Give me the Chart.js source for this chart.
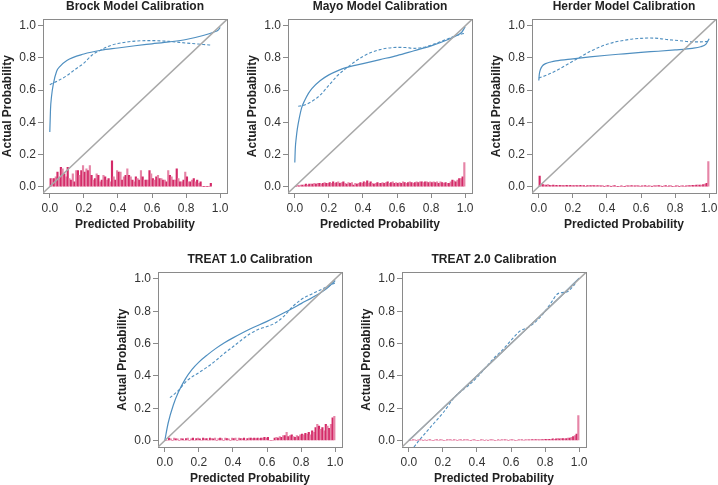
<!DOCTYPE html>
<html>
<head>
<meta charset="utf-8">
<script src="https://cdn.jsdelivr.net/npm/chart.js@4.4.1/dist/chart.umd.min.js"></script>
<style>
  html, body { margin: 0; padding: 0; background: #fff; overflow: hidden; }
  #wrap { position: relative; width: 718px; height: 485px; overflow: hidden; }
  #wrap canvas { position: absolute; }
</style>
</head>
<body>
<div id="wrap"></div>
<script>
// axis ticks shared by every panel
const axisTicks = [0, 0.2, 0.4, 0.6, 0.8, 1.0];
const axisMin = -0.04;
const axisMax = 1.04;
const binWidth = 0.01;

// Brock
const brockSolidX = [0, 0.004, 0.01, 0.02, 0.04, 0.06, 0.1, 0.2, 0.3, 0.4, 0.5, 0.6, 0.7, 0.8, 0.9, 0.96, 0.99, 1.0];
const brockSolidY = [0.34, 0.48, 0.56, 0.634, 0.717, 0.748, 0.785, 0.825, 0.848, 0.862, 0.876, 0.888, 0.9, 0.915, 0.94, 0.96, 0.975, 0.99];
const brockDashX = [0, 0.05, 0.1, 0.15, 0.2, 0.25, 0.3, 0.35, 0.4, 0.5, 0.6, 0.7, 0.8, 0.9, 0.945];
const brockDashY = [0.634, 0.66, 0.69, 0.73, 0.768, 0.82, 0.85, 0.875, 0.89, 0.905, 0.908, 0.903, 0.893, 0.884, 0.88];
const brockHist = [
  0.05, 0.05, 0.05, 0.06, 0.09, 0.05, 0.12, 0.11, 0.08, 0.06,
  0.12, 0.05, 0.04, 0.08, 0.03, 0.10, 0.10, 0.07, 0.10, 0.13,
  0.09, 0.11, 0.10, 0.13, 0.07, 0.04, 0.05, 0.08, 0.07, 0.03,
  0.04, 0.07, 0.06, 0.04, 0.05, 0.03, 0.16, 0.06, 0.04, 0.10,
  0.09, 0.09, 0.04, 0.06, 0.07, 0.11, 0.07, 0.06, 0.04, 0.03,
  0.06, 0.05, 0.04, 0.10, 0.06, 0.04, 0.04, 0.04, 0.10, 0.08,
  0.05, 0.04, 0.06, 0.07, 0.05, 0.05, 0.04, 0.04, 0.03, 0.10,
  0.07, 0.06, 0.04, 0.04, 0.11, 0.05, 0.03, 0.03, 0.04, 0.09,
  0.06, 0.03, 0.03, 0.04, 0.05, 0.03, 0.04, 0.02, 0.03, 0,
  0, 0, 0, 0, 0.02
];

// Mayo
const mayoSolidX = [0, 0.003, 0.008, 0.015, 0.025, 0.04, 0.06, 0.08, 0.1, 0.15, 0.2, 0.25, 0.3, 0.4, 0.5, 0.6, 0.7, 0.8, 0.9, 0.95, 0.98, 1.0];
const mayoSolidY = [0.15, 0.24, 0.3, 0.36, 0.42, 0.49, 0.54, 0.58, 0.61, 0.66, 0.695, 0.72, 0.74, 0.765, 0.79, 0.815, 0.845, 0.875, 0.915, 0.94, 0.96, 0.995];
const mayoDashX = [0.02, 0.05, 0.1, 0.15, 0.2, 0.25, 0.3, 0.35, 0.4, 0.45, 0.5, 0.55, 0.6, 0.65, 0.7, 0.75, 0.8, 0.85, 0.9, 0.95, 1.0];
const mayoDashY = [0.5, 0.505, 0.53, 0.57, 0.63, 0.69, 0.735, 0.775, 0.81, 0.835, 0.852, 0.862, 0.866, 0.865, 0.86, 0.865, 0.88, 0.9, 0.92, 0.94, 0.955];
const mayoHist = [
  0, 0.01, 0.005, 0.01, 0.01, 0.01, 0.015, 0.01, 0.015, 0.015,
  0.015, 0.02, 0.015, 0.02, 0.02, 0.015, 0.02, 0.025, 0.02, 0.02,
  0.025, 0.02, 0.03, 0.02, 0.025, 0.03, 0.02, 0.025, 0.03, 0.02,
  0.015, 0.025, 0.02, 0.025, 0.01, 0.02, 0.015, 0.02, 0.025, 0.02,
  0.03, 0.025, 0.035, 0.02, 0.03, 0.02, 0.015, 0.02, 0.025, 0.02,
  0.02, 0.025, 0.02, 0.025, 0.03, 0.02, 0.025, 0.03, 0.02, 0.025,
  0.02, 0.025, 0.02, 0.03, 0.025, 0.02, 0.025, 0.03, 0.025, 0.02,
  0.025, 0.03, 0.025, 0.03, 0.03, 0.025, 0.03, 0.03, 0.025, 0.03,
  0.025, 0.03, 0.025, 0.03, 0.02, 0.03, 0.025, 0.02, 0.025, 0.02,
  0.02, 0.03, 0.04, 0.035, 0.03, 0.04, 0.05, 0.05, 0.06, 0.15
];

// Herder
const herderSolidX = [0, 0.003, 0.01, 0.02, 0.04, 0.07, 0.1, 0.2, 0.3, 0.4, 0.5, 0.6, 0.7, 0.8, 0.9, 0.95, 0.98, 1.0];
const herderSolidY = [0.66, 0.7, 0.73, 0.75, 0.765, 0.775, 0.782, 0.795, 0.807, 0.817, 0.826, 0.835, 0.842, 0.85, 0.86, 0.87, 0.885, 0.92];
const herderDashX = [0, 0.05, 0.1, 0.15, 0.2, 0.25, 0.3, 0.35, 0.4, 0.45, 0.5, 0.55, 0.6, 0.65, 0.7, 0.75, 0.8, 0.85, 0.9, 0.95, 1.0];
const herderDashY = [0.675, 0.695, 0.72, 0.75, 0.78, 0.81, 0.84, 0.865, 0.885, 0.9, 0.91, 0.918, 0.922, 0.924, 0.922, 0.915, 0.91, 0.905, 0.9, 0.9, 0.905];
const herderHist = [
  0.065, 0.015, 0.012, 0.01, 0.01, 0.012, 0.008, 0.008, 0.01, 0.008,
  0.008, 0.006, 0.008, 0.008, 0.006, 0.008, 0.008, 0.006, 0.008, 0.006,
  0.006, 0.008, 0.006, 0.006, 0.008, 0.006, 0.006, 0, 0.006, 0.006,
  0.006, 0.008, 0.006, 0.005, 0.006, 0.006, 0.005, 0.006, 0, 0.005,
  0.006, 0.005, 0, 0.004, 0.006, 0, 0, 0, 0.005, 0,
  0, 0.006, 0.004, 0.005, 0.006, 0.005, 0.004, 0.006, 0.005, 0,
  0.005, 0.005, 0.006, 0, 0.005, 0.004, 0, 0.006, 0.005, 0.006,
  0.006, 0.005, 0, 0.005, 0.006, 0, 0.005, 0.006, 0, 0,
  0.005, 0.006, 0, 0.004, 0.005, 0, 0.005, 0.006, 0.006, 0.008,
  0.008, 0.008, 0.01, 0.01, 0.01, 0.01, 0.012, 0.015, 0.02, 0.155
];

// TREAT 1.0
const treat1SolidX = [0, 0.02, 0.05, 0.08, 0.12, 0.16, 0.2, 0.25, 0.3, 0.35, 0.4, 0.5, 0.6, 0.7, 0.8, 0.9, 0.95, 1.0];
const treat1SolidY = [0.0, 0.11, 0.22, 0.3, 0.38, 0.44, 0.485, 0.53, 0.57, 0.605, 0.635, 0.69, 0.737, 0.79, 0.847, 0.905, 0.94, 0.99];
const treat1DashX = [0.03, 0.08, 0.13, 0.2, 0.25, 0.3, 0.35, 0.4, 0.45, 0.5, 0.55, 0.6, 0.65, 0.7, 0.75, 0.8, 0.85, 0.9, 0.95, 1.0];
const treat1DashY = [0.265, 0.31, 0.37, 0.42, 0.455, 0.495, 0.54, 0.58, 0.622, 0.66, 0.688, 0.705, 0.728, 0.77, 0.828, 0.872, 0.9, 0.925, 0.95, 0.975];
const treat1Hist = [
  0, 0, 0.015, 0.01, 0, 0.015, 0.01, 0.01, 0, 0.012,
  0.01, 0, 0.012, 0.015, 0, 0.01, 0.015, 0, 0.012, 0.015,
  0.01, 0, 0.015, 0.01, 0.012, 0, 0.015, 0.012, 0.01, 0.015,
  0, 0.012, 0.015, 0.012, 0, 0.015, 0.012, 0.01, 0, 0.015,
  0.012, 0.015, 0, 0.015, 0.012, 0.01, 0.015, 0, 0.012, 0.015,
  0.015, 0.012, 0.015, 0.012, 0.015, 0.012, 0.015, 0.015, 0.02, 0.015,
  0.02, 0, 0, 0, 0.015, 0.02, 0.015, 0.025, 0.02, 0.03,
  0.03, 0.05, 0.025, 0.03, 0.035, 0.025, 0.02, 0.03, 0.025, 0.035,
  0.04, 0.035, 0.045, 0.04, 0.05, 0.035, 0.06, 0.05, 0.08, 0.1,
  0.09, 0.07, 0.08, 0.06, 0.1, 0.09, 0.075, 0.1, 0.14, 0.15
];

// TREAT 2.0
const treat2SolidX = [0, 0.1, 0.3, 0.5, 0.7, 0.9, 1.0];
const treat2SolidY = [0.0, 0.1, 0.3, 0.5, 0.7, 0.9, 1.005];
const treat2DashX = [0.03, 0.06, 0.1, 0.15, 0.2, 0.27, 0.35, 0.4, 0.45, 0.5, 0.55, 0.6, 0.65, 0.7, 0.75, 0.8, 0.84, 0.87, 0.9, 0.93, 0.96, 0.98];
const treat2DashY = [-0.04, 0.0, 0.05, 0.11, 0.17, 0.27, 0.34, 0.39, 0.45, 0.51, 0.56, 0.62, 0.675, 0.7, 0.74, 0.8, 0.86, 0.905, 0.915, 0.92, 0.95, 0.975];
const treat2Hist = [
  0, 0, 0.004, 0.004, 0, 0.004, 0.004, 0.004, 0, 0.004,
  0, 0.004, 0.004, 0, 0, 0.004, 0.004, 0, 0.004, 0.004,
  0, 0, 0.004, 0.004, 0.004, 0, 0.004, 0.004, 0, 0.004,
  0.004, 0, 0.004, 0.004, 0.004, 0, 0, 0.004, 0.004, 0,
  0, 0, 0.004, 0.004, 0, 0.004, 0, 0.004, 0.004, 0.004,
  0, 0, 0.004, 0, 0.004, 0.004, 0.004, 0.005, 0, 0.005,
  0.004, 0.005, 0, 0, 0.004, 0.005, 0.005, 0, 0.005, 0.005,
  0.005, 0.005, 0.006, 0.005, 0.006, 0.006, 0.005, 0.006, 0.006, 0.007,
  0.007, 0.008, 0.007, 0.008, 0.01, 0.008, 0.01, 0.012, 0.01, 0.012,
  0.012, 0.01, 0.012, 0.015, 0.015, 0.02, 0.025, 0.03, 0.04, 0.155
];

const FONT = '"Liberation Sans", Arial, Helvetica, sans-serif';
const BLUE = '#4f8fc0';
const FRAME = '#8a8a8a';

const panels = [
  { title: 'Brock Model Calibration',  left: 0,   top: -1,  h: 233, sx: brockSolidX,  sy: brockSolidY,  dx: brockDashX,  dy: brockDashY,  hist: brockHist },
  { title: 'Mayo Model Calibration',   left: 245, top: -1,  h: 233, sx: mayoSolidX,   sy: mayoSolidY,   dx: mayoDashX,   dy: mayoDashY,   hist: mayoHist },
  { title: 'Herder Model Calibration', left: 489, top: -1,  h: 233, sx: herderSolidX, sy: herderSolidY, dx: herderDashX, dy: herderDashY, hist: herderHist },
  { title: 'TREAT 1.0 Calibration',    left: 115, top: 252, h: 234, sx: treat1SolidX, sy: treat1SolidY, dx: treat1DashX, dy: treat1DashY, hist: treat1Hist },
  { title: 'TREAT 2.0 Calibration',    left: 359, top: 252, h: 234, sx: treat2SolidX, sy: treat2SolidY, dx: treat2DashX, dy: treat2DashY, hist: treat2Hist }
];

const toPoints = (xs, ys) => xs.map((x, i) => ({ x: x, y: ys[i] }));

function axis(title, isX) {
  return {
    type: 'linear',
    min: axisMin,
    max: axisMax,
    offset: false,
    afterBuildTicks: (s) => { s.ticks = axisTicks.map(v => ({ value: v })); },
    afterFit: (s) => {
      if (isX) s.height = 39;
      else s.width = 43;
    },
    grid: { display: true, offset: false, drawOnChartArea: false, drawTicks: true, tickLength: 5, color: FRAME },
    border: { display: true, color: FRAME, width: 1 },
    ticks: {
      padding: isX ? 3 : 2,
      color: '#333',
      font: { family: FONT, size: 12 },
      callback: (v) => Number(v).toFixed(1)
    },
    title: {
      display: true,
      text: title,
      color: '#222',
      padding: 0,
      font: { family: FONT, size: 12, weight: 'bold' }
    }
  };
}

// plain edge used to close the box on the top and right sides
function edge(position) {
  return {
    type: 'linear',
    position: position,
    min: axisMin,
    max: axisMax,
    offset: false,
    ticks: { display: false },
    grid: { display: true, drawOnChartArea: false, drawTicks: false, color: FRAME },
    border: { display: true, color: FRAME, width: 1 },
    title: { display: false },
    afterFit: (s) => {
      if (position === 'top') s.height = 0;
      else s.width = 0;
    }
  };
}

const wrap = document.getElementById('wrap');

panels.forEach((p) => {
  const canvas = document.createElement('canvas');
  const w = 43 + 184 + 10;
  canvas.width = w;
  canvas.height = p.h;
  canvas.style.left = p.left + 'px';
  canvas.style.top = p.top + 'px';
  canvas.style.width = w + 'px';
  canvas.style.height = p.h + 'px';
  wrap.appendChild(canvas);

  const histPoints = p.hist.map((h, i) => ({ x: (i + 0.5) * binWidth, y: h }));

  new Chart(canvas, {
    type: 'scatter',
    data: {
      datasets: [
        {
          type: 'line',
          data: toPoints([axisMin, axisMax], [axisMin, axisMax]),
          borderColor: '#a8a8a8',
          borderWidth: 1.5,
          pointRadius: 0
        },
        {
          type: 'bar',
          data: histPoints,
          barThickness: 1.5,
          backgroundColor: (c) => (c.dataIndex % 2 ? '#e685a7' : '#d42a68'),
          borderWidth: 0
        },
        {
          type: 'line',
          data: toPoints(p.sx, p.sy),
          borderColor: BLUE,
          borderWidth: 1.2,
          pointRadius: 0,
          cubicInterpolationMode: 'monotone'
        },
        {
          type: 'line',
          data: toPoints(p.dx, p.dy),
          borderColor: BLUE,
          borderWidth: 1.1,
          borderDash: [3, 2],
          pointRadius: 0,
          cubicInterpolationMode: 'monotone'
        }
      ]
    },
    options: {
      responsive: false,
      animation: false,
      devicePixelRatio: 1,
      layout: { padding: { left: 0, right: 10, top: 0, bottom: 0 } },
      scales: {
        x: axis('Predicted Probability', true),
        y: axis('Actual Probability', false),
        xTop: edge('top'),
        yRight: edge('right')
      },
      plugins: {
        legend: { display: false },
        tooltip: { enabled: false },
        title: {
          display: true,
          fullSize: false,
          text: p.title,
          color: '#222',
          padding: { top: 0, bottom: 6 },
          font: { family: FONT, size: 12, weight: 'bold' }
        }
      }
    }
  });
});
</script>
</body>
</html>
